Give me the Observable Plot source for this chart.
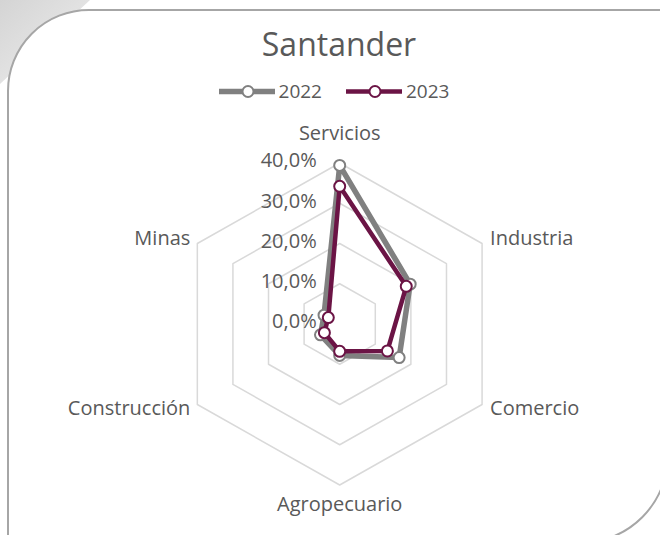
<!DOCTYPE html>
<html>
<head>
<meta charset="utf-8">
<script src="https://cdn.jsdelivr.net/npm/d3@7"></script>
<script src="https://cdn.jsdelivr.net/npm/@observablehq/plot@0.6"></script>
<style>
  body { margin: 0; background: #fff; font-family: "Open Sans", sans-serif; color: #595959; overflow: hidden; }
  #wrap { position: relative; width: 660px; height: 535px; overflow: hidden; }
  #fold { position: absolute; left: 0; top: 0; }
  #frame { position: absolute; left: 7px; top: 9px; width: 662px; height: 535px; box-sizing: border-box;
           border: 2px solid #a6a6a6; border-radius: 82px 0 89px 0; background: #fff; }
  #content { position: relative; }
  #title { padding-top: 28px; height: 32px; line-height: 32px; font-size: 32px; text-align: center; padding-left: 18px; }
  #legend { margin-top: 22px; height: 19px; margin-bottom: 9px; display: flex; justify-content: center;
            align-items: center; font-size: 19px; line-height: 19px; padding-left: 8px; }
  .item { display: flex; align-items: center; }
  .item svg { margin-right: 4px; }
  .item + .item { margin-left: 24px; }
  #chart svg { display: block; }
</style>
</head>
<body>
<div id="wrap">
  <svg id="fold" width="120" height="120">
    <defs>
      <linearGradient id="g" x1="0" y1="0" x2="1" y2="1">
        <stop offset="0" stop-color="#d4d4d4"/>
        <stop offset="1" stop-color="#f0f0f0"/>
      </linearGradient>
    </defs>
    <polygon points="0,0 90,0 0,84" fill="url(#g)"/>
  </svg>
  <div id="frame"></div>
  <div id="content">
    <div id="title">Santander</div>
    <div id="legend"></div>
    <div id="chart"></div>
  </div>
</div>
<script>
const categories = ["Servicios", "Industria", "Comercio", "Agropecuario", "Construcción", "Minas"];
const series = ["2022", "2023"];
const values2022 = [39.4, 19.8, 16.7, 7.8, 5.4, 4.4];
const values2023 = [34.2, 18.7, 13.4, 6.8, 4.3, 3.2];
const ringTicks = [0, 10, 20, 30, 40];
const tickLabels = ["0,0%", "10,0%", "20,0%", "30,0%", "40,0%"];

const colors = { "2022": "#808080", "2023": "#6b1445" };
const widths = { "2022": 5.5, "2023": 4.5 };
const textColor = "#595959";
const fontFamily = "'Open Sans', sans-serif";

// legend
const legend = document.getElementById("legend");
series.forEach(s => {
  const item = document.createElement("div");
  item.className = "item";
  item.innerHTML = `<svg width="56" height="19"><line x1="0" x2="56" y1="9.5" y2="9.5" stroke="${colors[s]}" stroke-width="${widths[s]}"/>` +
    `<circle cx="29" cy="9.5" r="5.5" fill="#fff" stroke="${colors[s]}" stroke-width="2"/></svg><span>${s}</span>`;
  legend.appendChild(item);
});

// polar helpers
const n = categories.length;
const ang = i => i * 2 * Math.PI / n;
const px = (v, i) => v * Math.sin(ang(i));
const py = (v, i) => v * Math.cos(ang(i));

const points = [];
[values2022, values2023].forEach((vals, s) =>
  vals.forEach((v, i) => points.push({ series: series[s], cat: categories[i], x: px(v, i), y: py(v, i) })));

const rings = [];
ringTicks.filter(t => t > 0).forEach(t =>
  categories.forEach((c, i) => rings.push({ ring: t, x: px(t, i), y: py(t, i) })));

const maxTick = ringTicks[ringTicks.length - 1];

// geometry (pixels per unit)
const W = 660, H = 425, cx = 339.2, cy = 213.5, kx = 4.11, ky = 4.025;

const labelMarks = categories.map((c, i) => {
  const s = Math.sin(ang(i)), co = Math.cos(ang(i));
  let anchor = "middle", dx = 0, dy = 0;
  if (Math.abs(s) < 1e-6) { dy = co > 0 ? -29.5 : 20; }
  else { anchor = s > 0 ? "start" : "end"; dx = s > 0 ? 8 : -7; dy = co > 0 ? -5 : 4; }
  return Plot.text([c], { x: () => px(maxTick, i), y: () => py(maxTick, i), text: d => d,
    textAnchor: anchor, dx, dy, fontSize: 20, fill: textColor });
});

const seriesMarks = series.flatMap(s => [
  Plot.line(points.filter(d => d.series === s), { x: "x", y: "y", curve: "linear-closed",
    stroke: colors[s], strokeWidth: widths[s], strokeLinejoin: "round" }),
  Plot.dot(points.filter(d => d.series === s), { x: "x", y: "y", r: 5.5, fill: "#fff",
    stroke: colors[s], strokeWidth: 2 })
]);

const chart = Plot.plot({
  width: W, height: H,
  marginTop: 0, marginBottom: 0, marginLeft: 0, marginRight: 0,
  style: { fontFamily, background: "transparent", overflow: "visible" },
  x: { domain: [-cx / kx, (W - cx) / kx], range: [0, W], axis: null },
  y: { domain: [-(H - cy) / ky, cy / ky], range: [H, 0], axis: null },
  marks: [
    Plot.line(rings, { x: "x", y: "y", z: "ring", curve: "linear-closed", stroke: "#d9d9d9", strokeWidth: 1.5 }),
    Plot.text(ringTicks, { x: () => 0, y: d => d, text: (d, i) => tickLabels[i], textAnchor: "end",
      dx: -23, dy: -2, fontSize: 20, fill: textColor }),
    ...labelMarks,
    ...seriesMarks
  ]
});
document.getElementById("chart").appendChild(chart);
</script>
</body>
</html>
